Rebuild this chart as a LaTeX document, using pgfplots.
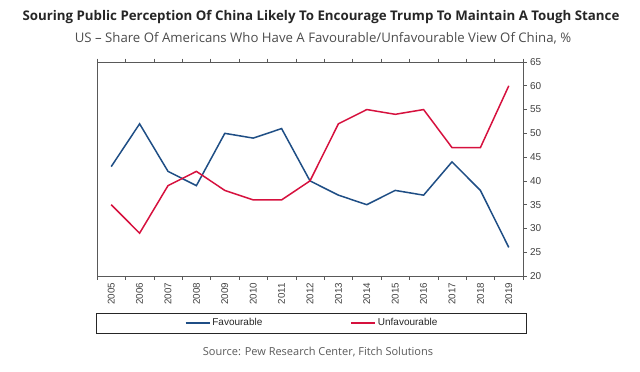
\documentclass[border=0pt]{standalone}
\usepackage{fontspec}
\usepackage{pgfplots}
\pgfplotsset{compat=1.18}
\setmainfont{Open Sans}
\newfontfamily\arialf{Liberation Sans}
\definecolor{favblue}{HTML}{1F4E85}
\definecolor{unfred}{HTML}{D6113E}
\definecolor{axgray}{HTML}{595959}
\definecolor{txtgray}{HTML}{404040}
\begin{document}
\begin{tikzpicture}[x=1pt,y=1pt]
\path[use as bounding box] (0,0) rectangle (640,-372);
\node[font=\bfseries\fontsize{13.3}{15}\selectfont, text=black!85] at (321,-17) {Souring Public Perception Of China Likely To Encourage Trump To Maintain A Tough Stance};
\node[font=\fontsize{13.2}{15}\selectfont, text=black!70] at (323,-38) {US – Share Of Americans Who Have A Favourable/Unfavourable View Of China, \%};
\begin{axis}[
  at={(97pt,-276pt)}, anchor=south west,
  scale only axis, width=426pt, height=214pt,
  xmin=-0.5, xmax=14.5, ymin=20, ymax=65,
  axis line style={axgray, line width=0.8pt},
  xtick={0,...,14},
  xticklabels={2005,2006,2007,2008,2009,2010,2011,2012,2013,2014,2015,2016,2017,2018,2019},
  minor xtick={-0.5,0.5,...,14.5},
  major x tick style={draw=none},
  minor tick length=3.5pt,
  x tick label style={rotate=90, anchor=east, font=\arialf\fontsize{9.8}{11}\selectfont, text=txtgray},
  ytick={20,25,...,65},
  ytick pos=right, yticklabel pos=right,
  tick align=outside,
  major tick length=3.5pt,
  tick style={axgray, line width=0.6pt},
  y tick label style={font=\arialf\fontsize{10}{11}\selectfont, text=txtgray},
  /pgf/number format/assume math mode=true,
  legend columns=2,
  legend style={draw=none, fill=none, at={(axis description cs:0.505,-0.2196)}, anchor=center,
    font=\arialf\fontsize{10}{11}\selectfont, text=black!85,
    /tikz/every even column/.append style={column sep=86pt}},
  legend image code/.code={\draw[#1] (0pt,0pt) -- (24pt,0pt);},
]
\addplot[favblue, line width=1.5pt] coordinates {(0,43)(1,52)(2,42)(3,39)(4,50)(5,49)(6,51)(7,40)(8,37)(9,35)(10,38)(11,37)(12,44)(13,38)(14,26)};
\addlegendentry{Favourable}
\addplot[unfred, line width=1.5pt] coordinates {(0,35)(1,29)(2,39)(3,42)(4,38)(5,36)(6,36)(7,40)(8,52)(9,55)(10,54)(11,55)(12,47)(13,47)(14,60)};
\addlegendentry{Unfavourable}
\end{axis}
\draw[black!85, line width=0.7pt] (96,-313) rectangle (526,-333);
\node[font=\fontsize{11}{13}\selectfont, text=black!65] at (318,-352) {Source: Pew Research Center, Fitch Solutions};
\end{tikzpicture}
\end{document}
